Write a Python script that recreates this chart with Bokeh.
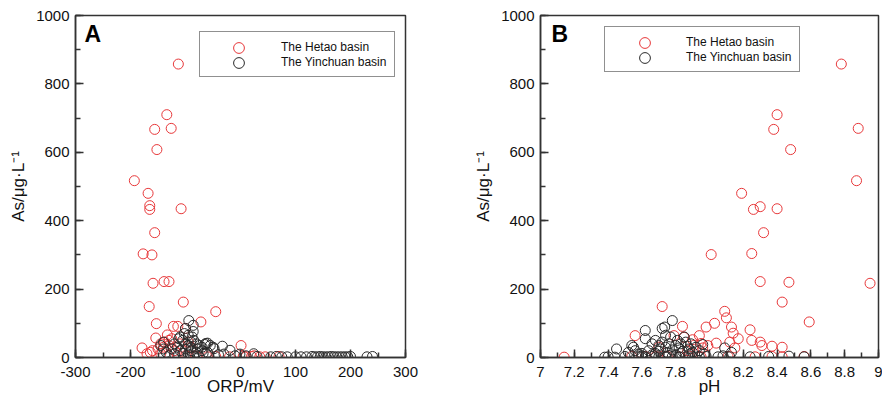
from bokeh.plotting import figure
from bokeh.layouts import row
from bokeh.models import (SingleIntervalTicker, Label, Legend, LegendItem,
                          NumeralTickFormatter)
from bokeh.embed import file_html
from bokeh.resources import INLINE

# ---------------- data ----------------
# Panel A: ORP (mV) vs As (ug/L)
orp_hetao = [-113, -134, -156, -126, -152, -193, -168, -165, -165, -108, -156, -177, -161,
             -159, -139, -130, -104, -166, -45, -72, -153, -122, -114,
             -154, -133, -138, -130, -125, -145, -140, -179, -170, -145, -115, -120, -100,
             -95, -90, -110, 1, -160, -130, -150, -164,
             -100, -80, -60, -45, -20, 5, 10, 20, 35, 45, 70, 25]
as_hetao_a = [858, 710, 667, 670, 608, 517, 480, 444, 433, 435, 365, 303, 300,
              217, 222, 222, 162, 149, 134, 104, 99, 91, 91,
              57, 66, 45, 50, 55, 40, 30, 28, 11, 11, 6, 20, 85,
              45, 30, 40, 35, 20, 35, 25, 15,
              5, 3, 2, 3, 2, 4, 2, 3, 2, 2, 3, 5]

orp_yinchuan = [-94, -86, -86, -100, -110, -95, -105, -100, -95, -90, -85, -80, -75, -70,
                -65, -60, -55, -50, -115, -120, -125, -140, -145, -135, -110, -100, -90,
                -80, -70, -60, -33, -19, -48, -63, -1, 24, -30, -10, -40, -85, -75, -95,
                -105, -112, -102, -90, -78, -68, -120, -130, -140, -88,
                10, 30, 55, 65, 75, 85, 100, 110, 120, 130, 135, 140, 145, 150, 155, 160,
                165, 170, 175, 180, 185, 190, 195, 200, 230, 240]
as_yinchuan_a = [108, 94, 76, 85, 60, 65, 50, 40, 35, 45, 50, 40, 35, 30,
                 38, 42, 35, 30, 30, 40, 25, 25, 35, 15, 20, 25, 20,
                 15, 20, 15, 33, 21, 26, 41, 10, 11, 10, 5, 8, 5, 2, 10,
                 12, 55, 70, 28, 25, 12, 10, 5, 45, 60,
                 5, 3, 2, 3, 2, 2, 2, 2, 2, 3, 2, 2, 3, 2, 2, 2,
                 3, 2, 2, 2, 2, 2, 2, 3, 2, 3]

# Panel B: pH vs As (ug/L)
ph_hetao = [8.78, 8.40, 8.38, 8.88, 8.48, 8.87, 8.19, 8.26, 8.30, 8.40, 8.32, 8.01, 8.25,
            8.30, 8.47, 8.95, 8.43, 7.72, 8.09, 8.10, 8.59, 7.98, 8.03, 8.13, 8.24, 7.84,
            7.56, 8.14, 8.17, 8.25, 8.30, 8.31, 8.37, 8.43, 8.04, 7.94, 7.91, 7.96, 8.15,
            7.14, 7.79, 7.85, 7.90, 7.95, 8.12, 7.87, 7.99, 7.70,
            7.54, 7.62, 7.68, 7.75, 7.82, 7.88, 7.95, 8.11, 8.27, 8.37, 8.43, 8.56]
as_hetao_b = [858, 710, 667, 670, 608, 517, 480, 433, 441, 435, 365, 301, 304,
              222, 220, 217, 162, 149, 135, 116, 104, 89, 100, 89, 81, 91,
              64, 71, 55, 50, 45, 35, 33, 30, 42, 64, 36, 28, 28,
              1, 64, 59, 52, 41, 45, 20, 35, 30,
              3, 3, 2, 3, 2, 4, 2, 3, 2, 3, 2, 3]

ph_yinchuan = [7.78, 7.735, 7.62, 7.45, 7.54, 7.72, 8.09, 7.38, 7.40, 7.44, 7.50, 7.52,
               7.55, 7.58, 7.60, 7.62, 7.64, 7.66, 7.68, 7.70, 7.71, 7.72, 7.74, 7.75,
               7.76, 7.77, 7.78, 7.80, 7.81, 7.82, 7.83, 7.84, 7.85, 7.86, 7.87, 7.88,
               7.89, 7.90, 7.92, 7.94, 7.96, 7.97, 7.58, 7.62, 7.66, 7.70, 7.74, 7.78,
               7.82, 7.86, 7.90, 7.94, 7.98, 8.05, 8.08, 8.12, 8.13, 8.24, 8.35, 8.47,
               8.56, 7.56, 7.60, 7.68, 7.74, 7.66, 7.70, 7.88, 7.80, 7.76]
as_yinchuan_b = [108, 89, 79, 25, 35, 85, 28, 1, 2, 1, 3, 15,
                 30, 10, 5, 55, 20, 40, 12, 35, 25, 45, 30, 15,
                 40, 60, 22, 35, 50, 28, 40, 18, 60, 45, 33, 25,
                 40, 15, 30, 20, 38, 10, 2, 2, 3, 2, 2, 3,
                 2, 2, 2, 2, 3, 2, 5, 2, 15, 2, 3, 4,
                 2, 20, 12, 50, 65, 8, 18, 10, 8, 6]

series_names = ["The Hetao basin", "The Yinchuan basin"]
y_ticks_interval = 200
RED = "#e8383a"
BLACK = "#2a2a2a"
FONT = "Liberation Sans"


def make_panel(xh, yh, xy, yyv, x_range, x_interval, x_fmt, x_label, letter, letter_x,
               width, border_left, border_right, box_loc, glyph_x, row_y):
    p = figure(width=width, height=399, x_range=x_range, y_range=(0, 1000),
               output_backend="svg", toolbar_location=None,
               min_border_left=border_left, min_border_right=border_right,
               min_border_top=15, min_border_bottom=42)
    p.grid.visible = False
    p.outline_line_color = "#333333"
    p.outline_line_width = 1.5
    p.background_fill_color = "white"
    p.border_fill_color = "white"

    r_h = p.scatter(xh, yh, size=10, fill_color=None, line_color=RED, line_width=1)
    r_y = p.scatter(xy, yyv, size=10, fill_color=None, line_color=BLACK, line_width=1)
    # invisible stand-ins so the framed legend box carries only the labels
    d_h = p.scatter(x=[], y=[], size=1, line_alpha=0, fill_alpha=0)
    d_y = p.scatter(x=[], y=[], size=1, line_alpha=0, fill_alpha=0)

    p.xaxis.ticker = SingleIntervalTicker(interval=x_interval, num_minor_ticks=2)
    p.xaxis.formatter = NumeralTickFormatter(format=x_fmt)
    p.yaxis.ticker = SingleIntervalTicker(interval=y_ticks_interval, num_minor_ticks=2)
    p.yaxis.formatter = NumeralTickFormatter(format="0")
    for ax in (p.xaxis[0], p.yaxis[0]):
        ax.major_tick_in = 8
        ax.major_tick_out = 0
        ax.minor_tick_in = 5
        ax.minor_tick_out = 0
        ax.axis_line_color = "#333333"
        ax.axis_line_width = 1.5
        ax.major_tick_line_color = "#333333"
        ax.major_tick_line_width = 1.5
        ax.minor_tick_line_color = "#333333"
        ax.minor_tick_line_width = 1.5
        ax.major_label_text_font = FONT
        ax.major_label_text_font_size = "15px"
        ax.major_label_text_color = "#111111"
        ax.axis_label_text_font = FONT
        ax.axis_label_text_font_size = "17px"
        ax.axis_label_text_font_style = "normal"
        ax.axis_label_text_color = "#111111"
    p.xaxis.axis_label = x_label
    p.xaxis.major_label_standoff = 9
    p.xaxis.axis_label_standoff = -3
    p.yaxis.axis_label = "As/\u03bcg\u00b7L\u207b\u00b9"
    p.yaxis.major_label_standoff = 6
    p.yaxis.axis_label_standoff = 5

    p.add_layout(Label(x=letter_x, y=985, text=letter, text_font=FONT,
                       text_font_size="23px", text_font_style="bold",
                       text_baseline="top", text_color="#000000"))

    # framed legend box with labels
    box = Legend(items=[LegendItem(label=series_names[0], renderers=[d_h]),
                        LegendItem(label=series_names[1], renderers=[d_y])],
                 location=box_loc, label_text_font=FONT, label_text_font_size="12px",
                 label_text_color="#111111", border_line_color="#222222",
                 border_line_width=1, background_fill_color="white",
                 background_fill_alpha=1, padding=7, margin=0, spacing=0,
                 glyph_width=66, glyph_height=15, label_height=15,
                 label_standoff=8, label_width=106)
    p.add_layout(box)
    # full-size legend markers, one per row
    for r, yy in ((r_h, row_y[0]), (r_y, row_y[1])):
        mk = Legend(items=[LegendItem(label=" ", renderers=[r])], location=(glyph_x, yy),
                    border_line_color=None, background_fill_alpha=0, padding=0,
                    margin=0, spacing=0, glyph_width=27, glyph_height=27,
                    label_height=27, label_width=0, label_standoff=0,
                    label_text_font_size="1px")
        p.add_layout(mk)
    return p


pA = make_panel(orp_hetao, as_hetao_a, orp_yinchuan, as_yinchuan_a, (-300, 300), 100, "0",
                "ORP/mV", "A", -283.6, 468, 75, 63, (124, 280), 150, (296, 281))
pB = make_panel(ph_hetao, as_hetao_b, ph_yinchuan, as_yinchuan_b, (7, 9), 0.2, "0.[0]",
                "pH", "B", 7.065, 414, 72, 4, (64, 285), 91, (301, 286))

layout = row(pA, pB)
open("out.html", "w").write(file_html(layout, INLINE))
